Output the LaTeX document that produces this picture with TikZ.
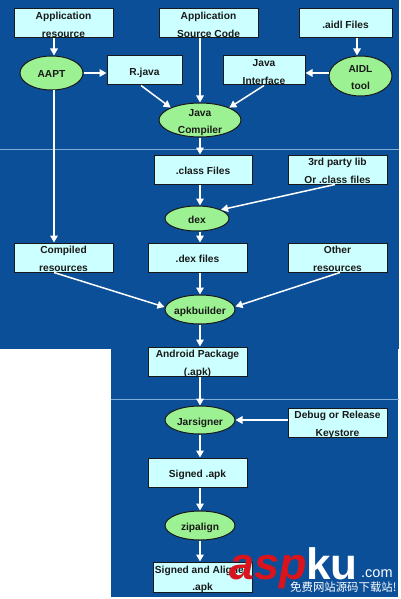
\documentclass[tikz,border=0pt]{standalone}
\usepackage{fontspec}
\setmainfont{Liberation Sans}
\newfontfamily\cjkwm{Noto Sans CJK SC}
\usetikzlibrary{arrows.meta,shapes.geometric}
\definecolor{bgblue}{HTML}{0B4F98}
\definecolor{boxfill}{HTML}{CCFFFF}
\definecolor{ellfill}{HTML}{9CF292}
\definecolor{sepline}{HTML}{7FAFD6}
\definecolor{wmred}{HTML}{D9141C}
\newcommand{\one}[1]{\smash{\makebox[0pt]{\raisebox{-5pt}{#1}}}}
\newcommand{\two}[2]{\smash{\makebox[0pt]{\raisebox{3.6pt}{#1}}\makebox[0pt]{\raisebox{-13.6pt}{#2}}}}
\tikzset{
  x=1pt,y=-1pt,
  lbl/.style={font=\fontsize{10.2}{15}\selectfont\bfseries,text=black!90,inner sep=0pt},
  stepbox/.style={lbl,draw=black!90,fill=boxfill,line width=1pt,minimum width=#1,minimum height=29pt},
  stepbox/.default=99pt,
  tool/.style n args={2}{lbl,draw=black!90,fill=ellfill,line width=1pt,shape=ellipse,minimum width=#1,minimum height=#2},
  flow/.style={draw=white,line width=1.5pt,-{Triangle[length=7pt,width=7.5pt,fill=white]}},
  sep/.style={draw=sepline,line width=0.8pt}
}
\begin{document}
\begin{tikzpicture}
\useasboundingbox (0,0) rectangle (400,599);
\fill[white] (0,0) rectangle (400,599);
\fill[bgblue] (0,0) rectangle (399,349);
\fill[bgblue] (111,349) rectangle (398,597);
\draw[sep] (0,149) -- (399,149);
\draw[sep] (111,399) -- (399,399);

\node[stepbox] (appres) at (63.5,23.5) {\two{Application}{resource}};
\node[stepbox] (appsrc) at (208.5,23.5) {\two{Application}{Source Code}};
\node[stepbox=93pt] (aidlf) at (345.5,23.5) {\one{.aidl Files}};
\node[tool={63pt}{34pt}] (aapt) at (51.5,73) {\one{AAPT}};
\node[stepbox=75pt] (rjava) at (144.5,70.5) {\one{R.java}};
\node[stepbox=82pt] (jint) at (264,70.5) {\two{Java}{Interface}};
\node[tool={63pt}{40pt}] (aidlt) at (360.5,76) {\two{AIDL}{tool}};
\node[tool={82pt}{34pt}] (jc) at (200,120) {\two{Java}{Compiler}};
\node[stepbox=98pt] (cls) at (203,169.5) {\one{.class Files}};
\node[stepbox] (third) at (337.5,169.5) {\two{3rd party lib}{Or .class files}};
\node[tool={64pt}{25pt}] (dex) at (197,218.5) {\one{dex}};
\node[stepbox] (comp) at (63.5,257.5) {\two{Compiled}{resources}};
\node[stepbox] (dexf) at (197.5,257.5) {\one{.dex files}};
\node[stepbox] (other) at (337.5,257.5) {\two{Other}{resources}};
\node[tool={70pt}{29pt}] (apkb) at (200,309.5) {\one{apkbuilder}};
\node[stepbox] (pkg) at (197.5,361.5) {\two{Android Package}{(.apk)}};
\node[tool={70pt}{28pt}] (jars) at (200,420) {\one{Jarsigner}};
\node[stepbox] (keys) at (337.5,422.5) {\two{Debug or Release}{Keystore}};
\node[stepbox] (signed) at (197.5,472.5) {\one{Signed .apk}};
\node[tool={70pt}{29pt}] (zip) at (200,525.5) {\one{zipalign}};
\node[stepbox=99pt,minimum height=30pt] (final) at (202.5,577) {\two{Signed and Aligned}{.apk}};

\draw[flow] ([xshift=-9.5pt]appres.south) -- ([xshift=-9.5pt]appres.south |- aapt.north);
\draw[flow] (aapt.east) -- (aapt.east -| rjava.west);
\draw[flow] ([xshift=-3.5pt]rjava.south) -- (jc.north west);
\draw[flow] (jc.north |- appsrc.south) -- (jc.north);
\draw[flow] (jint.south) -- (jc.north east);
\draw[flow] ([xshift=11.5pt]aidlf.south) -- ([xshift=11.5pt]aidlf.south |- aidlt.north);
\draw[flow] ([yshift=3pt]aidlt.west) -- ([yshift=3pt]aidlt.west -| jint.east);
\draw[flow] (jc.south) -- (jc.south |- cls.north);
\draw[flow] (jc.south |- cls.south) -- (jc.south |- dex.north);
\draw[flow] ([xshift=-2.5pt]third.south) -- (dex.20);
\draw[flow] (jc.south |- dex.south) -- (jc.south |- dexf.north);
\draw[flow] ([xshift=2.5pt]aapt.south) -- ([xshift=2.5pt]aapt.south |- comp.north);
\draw[flow] ([xshift=-9.5pt]comp.south) -- ([yshift=2.5pt]apkb.west);
\draw[flow] (apkb.north |- dexf.south) -- (apkb.north);
\draw[flow] ([xshift=2.5pt]other.south) -- ([yshift=3pt]apkb.east);
\draw[flow] (apkb.south) -- (apkb.south |- pkg.north);
\draw[flow] (jars.north |- pkg.south) -- (jars.north);
\draw[flow] (keys.west |- jars.east) -- (jars.east);
\draw[flow] (jars.south) -- (jars.south |- signed.north);
\draw[flow] (zip.north |- signed.south) -- (zip.north);
\draw[flow] (zip.south) -- (zip.south |- final.north);

\node[anchor=base west,inner sep=0pt,text=wmred,font=\fontsize{45}{45}\selectfont\bfseries\itshape] (wmasp) at (229,579) {asp};
\node[anchor=base west,inner sep=0pt,text=white,font=\fontsize{44}{44}\selectfont\bfseries] (wmku) at (306,579) {ku};
\node[anchor=base west,inner sep=0pt,text=white,font=\fontsize{14.5}{15}\selectfont] (wmcom) at (361,577) {.com};
\node[anchor=base west,inner sep=0pt,text=white,font=\cjkwm\fontsize{11.4}{11}\selectfont] (wmcn) at (290,591) {免费网站源码下载站!};
\end{tikzpicture}
\end{document}
